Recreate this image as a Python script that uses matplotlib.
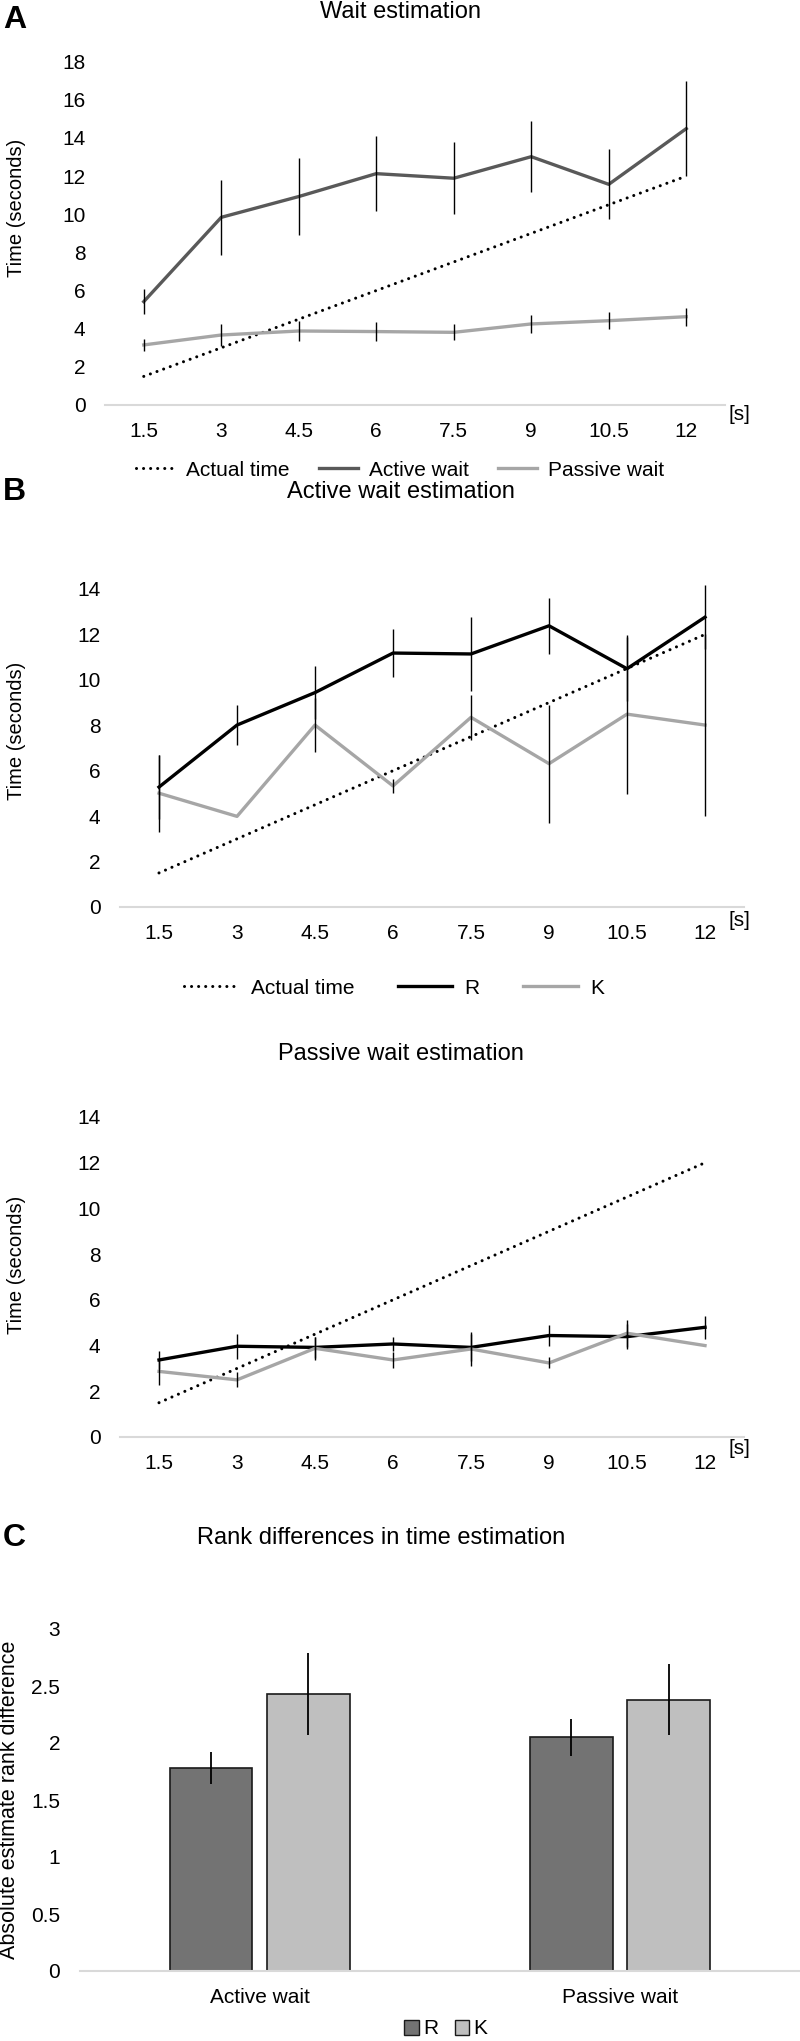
import matplotlib
matplotlib.use("Agg")
import matplotlib.pyplot as plt
import numpy as np
from matplotlib.patches import Patch
from matplotlib.ticker import FormatStrFormatter

plt.rcParams["font.family"] = ["Liberation Sans", "DejaVu Sans"]

# x categories (seconds) and the actual duration line
x_labels = ["1.5", "3", "4.5", "6", "7.5", "9", "10.5", "12"]
actual_time = [1.5, 3, 4.5, 6, 7.5, 9, 10.5, 12]

# panel A
wait_active = [5.42, 9.84, 10.93, 12.13, 11.89, 13.02, 11.57, 14.49]
wait_active_err = [0.67, 1.97, 2.0, 1.98, 1.9, 1.85, 1.84, 2.5]
wait_passive = [3.15, 3.67, 3.88, 3.85, 3.81, 4.25, 4.42, 4.63]
wait_passive_err = [0.32, 0.58, 0.5, 0.52, 0.42, 0.48, 0.43, 0.47]

# panel B, active wait
active_r = [5.28, 8.01, 9.44, 11.18, 11.14, 12.38, 10.49, 12.76]
active_r_err = [1.41, 0.88, 1.17, 1.07, 1.63, 1.24, 1.4, 1.42]
active_k = [5.01, 3.99, 8.01, 5.33, 8.35, 6.31, 8.49, 8.01]
active_k_err = [1.7, 0.0, 1.17, 0.32, 0.98, 2.6, 3.5, 4.0]

# panel B, passive wait
passive_r = [3.37, 3.97, 3.92, 4.07, 3.92, 4.44, 4.39, 4.80]
passive_r_err = [0.41, 0.54, 0.45, 0.30, 0.60, 0.47, 0.54, 0.51]
passive_k = [2.87, 2.50, 3.88, 3.37, 3.85, 3.24, 4.54, 4.00]
passive_k_err = [0.60, 0.33, 0.50, 0.35, 0.76, 0.24, 0.60, 0.0]

# panel C
rank_groups = ["Active wait", "Passive wait"]
rank_r = [1.78, 2.05]
rank_r_err = [0.14, 0.16]
rank_k = [2.43, 2.38]
rank_k_err = [0.36, 0.31]

W, H = 800, 2041
fig = plt.figure(figsize=(W / 100, H / 100), dpi=100)


def box(left, top, right, bottom):
    return [left / W, 1 - bottom / H, (right - left) / W, (bottom - top) / H]


def fx(px):
    return px / W


def fy(py):
    return 1 - py / H


def style_axes(ax, ymax, step):
    for side in ["top", "right", "left"]:
        ax.spines[side].set_visible(False)
    ax.spines["bottom"].set_color("#d9d9d9")
    ax.spines["bottom"].set_linewidth(1.5)
    ax.tick_params(length=0, labelsize=15)
    ax.tick_params(axis="y", pad=14)
    ax.tick_params(axis="x", pad=12)
    ax.set_ylim(0, ymax)
    ax.set_yticks(np.arange(0, ymax + step / 2, step))
    ax.yaxis.set_major_formatter(FormatStrFormatter("%g"))


def line_panel(ax, series, ymax):
    idx = np.arange(len(x_labels))
    ax.plot(idx, actual_time, color="black", lw=2.2, dashes=(0.01, 2.3),
            dash_capstyle="round", label="Actual time", zorder=2)
    for label, vals, errs, color in series:
        ax.plot(idx, vals, color=color, lw=2.4, label=label, zorder=2)
    for label, vals, errs, color in series:
        eb = ax.errorbar(idx, vals, yerr=errs, fmt="none", ecolor="black",
                         elinewidth=1.0, capsize=0, zorder=3)
        for c in eb.lines[2]:
            c.set_clip_on(False)
    ax.set_xlim(-0.5, len(x_labels) - 0.5)
    ax.set_xticks(idx, x_labels)
    style_axes(ax, ymax, 2)


# ---- A ----
ax_a = fig.add_axes(box(105, 61.7, 725, 405))
line_panel(ax_a, [("Active wait", wait_active, wait_active_err, "#595959"),
                  ("Passive wait", wait_passive, wait_passive_err, "#a6a6a6")], 18)
ax_a.legend(loc="center", bbox_to_anchor=(fx(400), fy(470)), bbox_transform=fig.transFigure,
            ncol=3, frameon=False, fontsize=15, handlelength=1.9, handletextpad=0.5,
            columnspacing=1.4)
fig.text(fx(400), fy(12), "Wait estimation", ha="center", va="center", fontsize=17)
fig.text(fx(3), fy(20), "A", ha="left", va="center", fontsize=23, fontweight="bold")
fig.text(fx(17), fy(208), "Time (seconds)", rotation=90, ha="center", va="center", fontsize=14.5)
fig.text(fx(728), fy(414), "[s]", ha="left", va="center", fontsize=15)

# ---- B, active ----
ax_b = fig.add_axes(box(120, 589, 744, 907))
line_panel(ax_b, [("R", active_r, active_r_err, "black"),
                  ("K", active_k, active_k_err, "#a6a6a6")], 14)
ax_b.legend(loc="center", bbox_to_anchor=(fx(394), fy(988)), bbox_transform=fig.transFigure,
            ncol=3, frameon=False, fontsize=15, handlelength=2.6, handletextpad=0.6,
            columnspacing=2.1)
fig.text(fx(401), fy(492), "Active wait estimation", ha="center", va="center", fontsize=17)
fig.text(fx(3), fy(492), "B", ha="left", va="center", fontsize=23, fontweight="bold")
fig.text(fx(17), fy(731), "Time (seconds)", rotation=90, ha="center", va="center", fontsize=14.5)
fig.text(fx(728), fy(921), "[s]", ha="left", va="center", fontsize=15)

# ---- B, passive ----
ax_p = fig.add_axes(box(120, 1117, 744, 1437))
line_panel(ax_p, [("R", passive_r, passive_r_err, "black"),
                  ("K", passive_k, passive_k_err, "#a6a6a6")], 14)
fig.text(fx(401), fy(1054), "Passive wait estimation", ha="center", va="center", fontsize=17)
fig.text(fx(17), fy(1265), "Time (seconds)", rotation=90, ha="center", va="center", fontsize=14.5)
fig.text(fx(728), fy(1449), "[s]", ha="left", va="center", fontsize=15)

# ---- C ----
ax_c = fig.add_axes(box(79.5, 1629, 800, 1971))
cx = np.arange(len(rank_groups))
err_style = dict(elinewidth=1.3, ecolor="black", capsize=0)
ax_c.bar(cx - 0.135, rank_r, 0.23, yerr=rank_r_err, color="#737373", edgecolor="#1a1a1a",
         linewidth=1.2, error_kw=err_style, zorder=2)
ax_c.bar(cx + 0.135, rank_k, 0.23, yerr=rank_k_err, color="#bfbfbf", edgecolor="#1a1a1a",
         linewidth=1.2, error_kw=err_style, zorder=2)
ax_c.set_xlim(-0.5, 1.5)
ax_c.set_xticks(cx, rank_groups)
style_axes(ax_c, 3, 0.5)
ax_c.legend(handles=[Patch(facecolor="#737373", edgecolor="#1a1a1a", label="R"),
                     Patch(facecolor="#bfbfbf", edgecolor="#1a1a1a", label="K")],
            loc="center", bbox_to_anchor=(fx(446), fy(2029)), bbox_transform=fig.transFigure,
            ncol=2, frameon=False, fontsize=15, handlelength=0.7, handleheight=0.7,
            handletextpad=0.2, columnspacing=0.8, borderpad=0.1)
fig.text(fx(381), fy(1538), "Rank differences in time estimation", ha="center", va="center",
         fontsize=17)
fig.text(fx(3), fy(1538), "C", ha="left", va="center", fontsize=23, fontweight="bold")
fig.text(fx(10), fy(1800), "Absolute estimate rank difference", rotation=90, ha="center",
         va="center", fontsize=15.5)

fig.savefig("out.png", dpi=100)
